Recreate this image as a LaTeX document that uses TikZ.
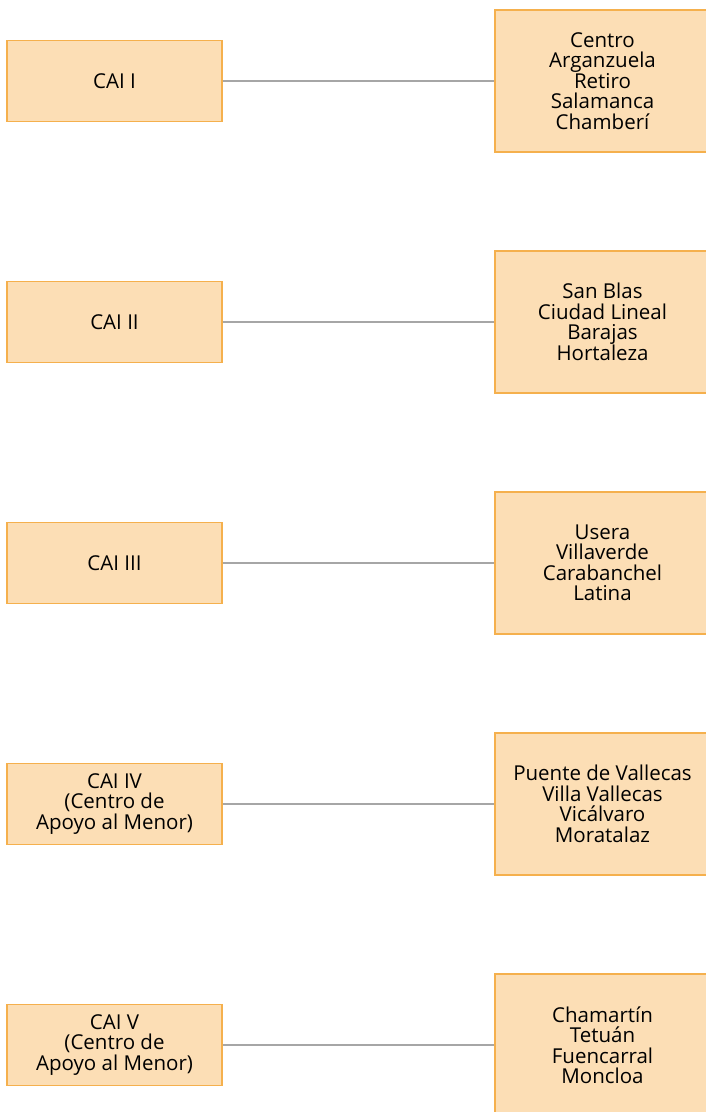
\documentclass[tikz,border=0pt]{standalone}
\usepackage{fontspec}
\setmainfont{Open Sans}
\usetikzlibrary{positioning}
\definecolor{boxfill}{HTML}{FCDEB5}
\definecolor{boxline}{HTML}{F5B04D}
\definecolor{linkgray}{HTML}{A6A6A6}
\tikzset{
  cai/.style={draw=boxline, fill=boxfill, line width=1.2pt, minimum width=215pt,
    minimum height=81pt, align=center, inner sep=0pt,
    font=\fontsize{20.5}{20.5}\selectfont},
  district/.style={cai, minimum height=142pt},
  link/.style={color=linkgray, line width=2pt}
}

\begin{document}
\begin{tikzpicture}[x=1pt, y=-1pt]
\useasboundingbox (0,0) rectangle (705,1112);

\node[cai] (cai1) at (114.5,81) {CAI I};
\node[district] (dist1) at (602.5,81) {Centro\\Arganzuela\\Retiro\\Salamanca\\Chamberí};
\draw[link] (cai1) -- (dist1);

\node[cai] (cai2) at (114.5,322) {CAI II};
\node[district] (dist2) at (602.5,322) {San Blas\\Ciudad Lineal\\Barajas\\Hortaleza};
\draw[link] (cai2) -- (dist2);

\node[cai] (cai3) at (114.5,563) {CAI III};
\node[district] (dist3) at (602.5,563) {Usera\\Villaverde\\Carabanchel\\Latina};
\draw[link] (cai3) -- (dist3);

\node[cai] (cai4) at (114.5,804) {CAI IV\\(Centro de\\Apoyo al Menor)};
\node[district] (dist4) at (602.5,804) {Puente de Vallecas\\Villa Vallecas\\Vicálvaro\\Moratalaz};
\draw[link] (cai4) -- (dist4);

\node[cai] (cai5) at (114.5,1045) {CAI V\\(Centro de\\Apoyo al Menor)};
\node[district] (dist5) at (602.5,1045) {Chamartín\\Tetuán\\Fuencarral\\Moncloa};
\draw[link] (cai5) -- (dist5);
\end{tikzpicture}
\end{document}
